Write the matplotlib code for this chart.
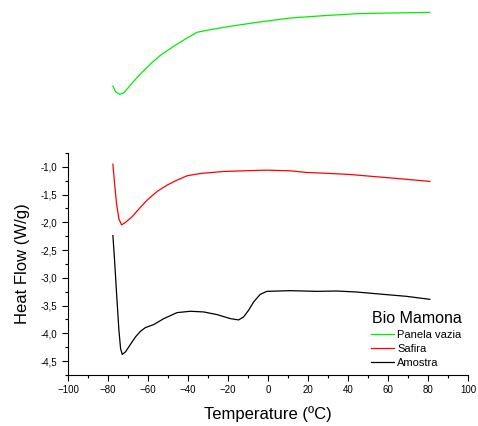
import matplotlib
matplotlib.use("Agg")
import matplotlib.pyplot as plt
from matplotlib.ticker import MultipleLocator, FuncFormatter

plt.rcParams['font.family'] = ['Liberation Sans', 'DejaVu Sans']

# Panela vazia (green)
t_green = [-77.56, -76.2, -74.06, -72.07, -67.08, -63.74, -58.75, -53.77,
           -47.13, -40.45, -35.46, -28.83, -18.85, -5.54, 11.07, 27.68,
           44.34, 60.95, 80.9]
hf_green = [0.454, 0.352, 0.304, 0.334, 0.543, 0.675, 0.854, 1.010,
            1.172, 1.321, 1.423, 1.471, 1.531, 1.602, 1.680, 1.722,
            1.758, 1.770, 1.782]

# Safira (red)
t_red = [-77.56, -76.7, -75.71, -74.55, -73.22, -71.22, -67.9, -64.57,
         -60.41, -55.43, -50.44, -45.45, -40.46, -33.81, -22.18, -12.2,
         -0.56, 11.07, 19.39, 27.7, 41.0, 52.63, 64.27, 80.9]
hf_red = [-0.952, -1.311, -1.670, -1.939, -2.047, -1.999, -1.897, -1.760,
          -1.598, -1.443, -1.329, -1.239, -1.162, -1.120, -1.084, -1.072,
          -1.060, -1.072, -1.102, -1.114, -1.138, -1.174, -1.209, -1.263]

# Amostra (black)
t_black = [-77.56, -76.71, -75.71, -74.55, -73.72, -72.89, -71.22, -68.73,
           -66.24, -63.74, -61.25, -57.09, -52.11, -45.45, -38.8, -32.15,
           -25.5, -18.85, -14.69, -12.2, -9.71, -7.21, -3.89, -0.56,
           11.07, 24.37, 34.35, 44.3, 57.6, 69.25, 80.9]
hf_black = [-2.238, -2.687, -3.286, -3.943, -4.272, -4.380, -4.332, -4.194,
            -4.063, -3.961, -3.895, -3.841, -3.734, -3.626, -3.602, -3.614,
            -3.662, -3.734, -3.758, -3.704, -3.584, -3.435, -3.297, -3.243,
            -3.231, -3.243, -3.237, -3.255, -3.297, -3.333, -3.387]

fig = plt.figure(figsize=(4.78, 4.26), dpi=100)
ax = fig.add_axes([0.1423, 0.1197, 0.8367, 0.5213])

ax.plot(t_green, hf_green, color='#00ee00', lw=0.9, label='Panela vazia',
        clip_on=False)
ax.plot(t_red, hf_red, color='#ff0000', lw=0.9, label='Safira')
ax.plot(t_black, hf_black, color='black', lw=0.9, label='Amostra')

ax.set_xlim(-100, 100)
ax.set_ylim(-4.75, -0.75)
ax.spines['top'].set_visible(False)
ax.spines['right'].set_visible(False)
ax.xaxis.set_major_locator(MultipleLocator(20))
ax.xaxis.set_minor_locator(MultipleLocator(10))
ax.yaxis.set_major_locator(MultipleLocator(0.5))
ax.yaxis.set_minor_locator(MultipleLocator(0.25))
ax.yaxis.set_major_formatter(FuncFormatter(lambda v, p: ('%.1f' % v).replace('.', ',')))
ax.tick_params(which='major', length=4, width=0.8, labelsize=7)
ax.tick_params(which='minor', length=2.5, width=0.8)

ax.set_xlabel('Temperature (ºC)', fontsize=12, labelpad=8)
ax.set_ylabel('Heat Flow (W/g)', fontsize=12, labelpad=8)

leg = ax.legend(title='Bio Mamona', loc='lower right', frameon=False,
                fontsize=8, title_fontsize=11.5, handlelength=2.0,
                handletextpad=0.3, labelspacing=0.38,
                borderaxespad=0.2, bbox_to_anchor=(1.0, 0.0))

fig.savefig('out.png', dpi=100)
